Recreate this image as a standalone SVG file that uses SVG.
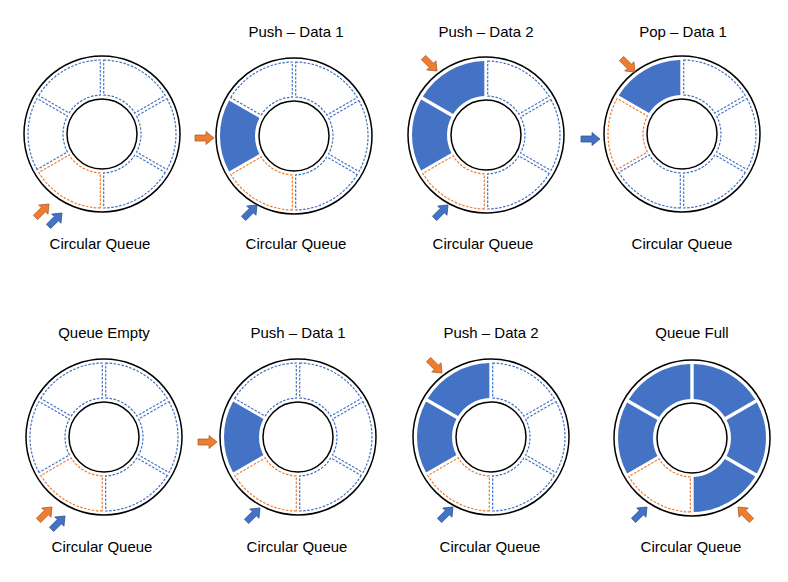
<svg xmlns="http://www.w3.org/2000/svg" xmlns:xlink="http://www.w3.org/1999/xlink" width="788" height="582" viewBox="0 0 788 582">
<style>
  .bg{fill:#fff}
  .ring{fill:#fff;stroke:#000;stroke-width:1.5}
  .e{fill:#fff;stroke:#4472C4;stroke-width:1.2;stroke-dasharray:2.5 1.5}
  .o{fill:#fff;stroke:#ED7D31;stroke-width:1.2;stroke-dasharray:2.5 1.5}
  .f{fill:#4472C4;stroke:none}
  .ao{fill:#ED7D31;stroke:#AE5A21;stroke-width:0.75}
  .ab{fill:#4472C4;stroke:#2F528F;stroke-width:0.75}
  text{font-family:"Liberation Sans",Arial,sans-serif;font-size:15px;fill:#000;text-anchor:middle}
</style>
<defs>
  <path id="seg" d="M1.7,-73.98 A74,74 0 0 1 63.22,-38.46 L32.90,-20.92 A39,39 0 0 0 1.7,-38.96 Z"/>
  <path id="arr" d="M-19,-3 L-8,-3 L-8,-6.5 L0,0 L-8,6.5 L-8,3 L-19,3 Z"/>
</defs>
<rect class="bg" x="0" y="0" width="788" height="582"/>

<g id="q1" transform="translate(102,134)">
  <circle class="ring" r="78"/>
  <use href="#seg" class="e"/>
  <use href="#seg" class="e" transform="rotate(60)"/>
  <use href="#seg" class="e" transform="rotate(120)"/>
  <use href="#seg" class="o" transform="rotate(180)"/>
  <use href="#seg" class="e" transform="rotate(240)"/>
  <use href="#seg" class="e" transform="rotate(300)"/>
  <circle class="ring" r="35"/>
</g>
<g id="q2" transform="translate(294,136)">
  <circle class="ring" r="78"/>
  <use href="#seg" class="e"/>
  <use href="#seg" class="e" transform="rotate(60)"/>
  <use href="#seg" class="e" transform="rotate(120)"/>
  <use href="#seg" class="o" transform="rotate(180)"/>
  <use href="#seg" class="f" transform="rotate(240)"/>
  <use href="#seg" class="e" transform="rotate(300)"/>
  <circle class="ring" r="35"/>
</g>
<g id="q3" transform="translate(486,135)">
  <circle class="ring" r="78"/>
  <use href="#seg" class="e"/>
  <use href="#seg" class="e" transform="rotate(60)"/>
  <use href="#seg" class="e" transform="rotate(120)"/>
  <use href="#seg" class="o" transform="rotate(180)"/>
  <use href="#seg" class="f" transform="rotate(240)"/>
  <use href="#seg" class="f" transform="rotate(300)"/>
  <circle class="ring" r="35"/>
</g>
<g id="q4" transform="translate(682,134)">
  <circle class="ring" r="78"/>
  <use href="#seg" class="e"/>
  <use href="#seg" class="e" transform="rotate(60)"/>
  <use href="#seg" class="e" transform="rotate(120)"/>
  <use href="#seg" class="e" transform="rotate(180)"/>
  <use href="#seg" class="o" transform="rotate(240)"/>
  <use href="#seg" class="f" transform="rotate(300)"/>
  <circle class="ring" r="35"/>
</g>
<g id="q5" transform="translate(104,437)">
  <circle class="ring" r="78"/>
  <use href="#seg" class="e"/>
  <use href="#seg" class="e" transform="rotate(60)"/>
  <use href="#seg" class="e" transform="rotate(120)"/>
  <use href="#seg" class="o" transform="rotate(180)"/>
  <use href="#seg" class="e" transform="rotate(240)"/>
  <use href="#seg" class="e" transform="rotate(300)"/>
  <circle class="ring" r="35"/>
</g>
<g id="q6" transform="translate(298,437)">
  <circle class="ring" r="78"/>
  <use href="#seg" class="e"/>
  <use href="#seg" class="e" transform="rotate(60)"/>
  <use href="#seg" class="e" transform="rotate(120)"/>
  <use href="#seg" class="o" transform="rotate(180)"/>
  <use href="#seg" class="f" transform="rotate(240)"/>
  <use href="#seg" class="e" transform="rotate(300)"/>
  <circle class="ring" r="35"/>
</g>
<g id="q7" transform="translate(491,437)">
  <circle class="ring" r="78"/>
  <use href="#seg" class="e"/>
  <use href="#seg" class="e" transform="rotate(60)"/>
  <use href="#seg" class="e" transform="rotate(120)"/>
  <use href="#seg" class="o" transform="rotate(180)"/>
  <use href="#seg" class="f" transform="rotate(240)"/>
  <use href="#seg" class="f" transform="rotate(300)"/>
  <circle class="ring" r="35"/>
</g>
<g id="q8" transform="translate(692,438)">
  <circle class="ring" r="78"/>
  <use href="#seg" class="f"/>
  <use href="#seg" class="f" transform="rotate(60)"/>
  <use href="#seg" class="f" transform="rotate(120)"/>
  <use href="#seg" class="o" transform="rotate(180)"/>
  <use href="#seg" class="f" transform="rotate(240)"/>
  <use href="#seg" class="f" transform="rotate(300)"/>
  <circle class="ring" r="35"/>
</g>

<g id="pointers">
  <use href="#arr" class="ao" transform="translate(49,204) rotate(-45)"/>
  <use href="#arr" class="ab" transform="translate(62,213) rotate(-45)"/>
  <use href="#arr" class="ao" transform="translate(214,138)"/>
  <use href="#arr" class="ab" transform="translate(257,205) rotate(-45)"/>
  <use href="#arr" class="ao" transform="translate(437,71) rotate(45)"/>
  <use href="#arr" class="ab" transform="translate(448,205) rotate(-45)"/>
  <use href="#arr" class="ao" transform="translate(635,72) rotate(45)"/>
  <use href="#arr" class="ab" transform="translate(600,139)"/>
  <use href="#arr" class="ao" transform="translate(52,507) rotate(-45)"/>
  <use href="#arr" class="ab" transform="translate(65,516) rotate(-45)"/>
  <use href="#arr" class="ao" transform="translate(217,442)"/>
  <use href="#arr" class="ab" transform="translate(260,508) rotate(-45)"/>
  <use href="#arr" class="ao" transform="translate(442,373) rotate(45)"/>
  <use href="#arr" class="ab" transform="translate(453,507) rotate(-45)"/>
  <use href="#arr" class="ab" transform="translate(647,507) rotate(-45)"/>
  <use href="#arr" class="ao" transform="translate(738,507) rotate(-135)"/>
</g>

<g id="labels">
  <text x="296" y="37">Push – Data 1</text>
  <text x="486" y="37">Push – Data 2</text>
  <text x="683" y="37">Pop – Data 1</text>
  <text x="100" y="249">Circular Queue</text>
  <text x="296" y="249">Circular Queue</text>
  <text x="483" y="249">Circular Queue</text>
  <text x="682" y="249">Circular Queue</text>
  <text x="104" y="338">Queue Empty</text>
  <text x="298" y="338">Push – Data 1</text>
  <text x="491" y="338">Push – Data 2</text>
  <text x="692" y="338">Queue Full</text>
  <text x="102" y="552">Circular Queue</text>
  <text x="297" y="552">Circular Queue</text>
  <text x="490" y="552">Circular Queue</text>
  <text x="691" y="552">Circular Queue</text>
</g>
</svg>
